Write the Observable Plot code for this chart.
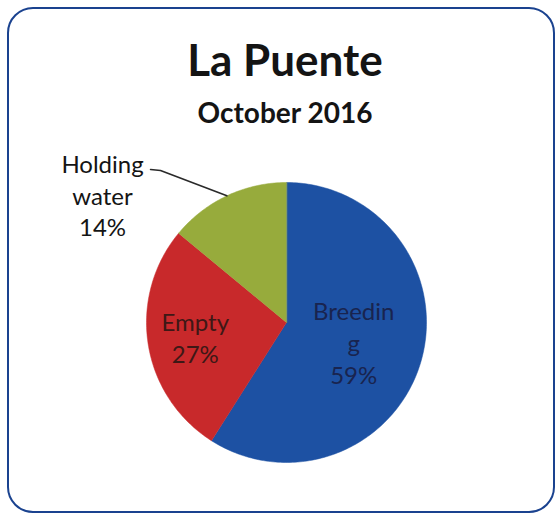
<!DOCTYPE html>
<html><head><meta charset="utf-8">
<script src="https://cdn.jsdelivr.net/npm/d3@7"></script>
<script src="https://cdn.jsdelivr.net/npm/@observablehq/plot@0.6"></script>
<style>
body{margin:0;background:#fff;}
#card{position:relative;width:558px;height:517px;overflow:hidden;font-family:Lato,"Open Sans",sans-serif;color:#141414;}
#frame{position:absolute;left:7px;top:7px;width:544px;height:502px;border:2.5px solid #1a428f;border-radius:26px;}
#title{position:absolute;left:0;width:570px;top:37px;text-align:center;font-weight:bold;font-size:44px;line-height:44px;margin:0;}
#subtitle{position:absolute;left:0;width:570px;top:98px;text-align:center;font-weight:bold;font-size:28px;line-height:28px;margin:0;}
#chart{position:absolute;left:0;top:130px;}
</style></head>
<body>
<div id="card">
  <div id="frame"></div>
  <div id="title">La Puente</div>
  <div id="subtitle">October 2016</div>
  <div id="chart"></div>
</div>
<script>
// ---- data ----
const categories = ["Breeding", "Empty", "Holding water"];
const values = [59, 27, 14];
const labels = ["Breedin\ng\n59%", "Empty\n27%", "Holding\nwater\n14%"];
const colors = ["#1d51a3", "#c8292b", "#97ab3c"];

// ---- layout (not data) ----
const W = 558, H = 387, cx = 286, cy = 192, R = 140;
const labelLayout = [
  {radial: 0.5, color: "#19244f"},
  {radial: 0.66, color: "#3e1816"},
  {pos: [-1.314, 0.914], color: "#141414", leader: [[-0.971, 1.093], [-0.9, 1.086]]}
];

const arcs = d3.pie().sort(null).value(d => d)(values);
const slicePts = [];
arcs.forEach((a, i) => {
  slicePts.push({category: categories[i], x: 0, y: 0});
  const n = Math.max(2, Math.ceil((a.endAngle - a.startAngle) / (Math.PI / 180)));
  for (let k = 0; k <= n; k++) {
    const t = a.startAngle + (a.endAngle - a.startAngle) * k / n;
    slicePts.push({category: categories[i], x: Math.sin(t), y: Math.cos(t)});
  }
});

const textMarks = [];
const leaderPts = [];
arcs.forEach((a, i) => {
  const mid = (a.startAngle + a.endAngle) / 2;
  const L = labelLayout[i];
  let p;
  if (L.pos) {
    p = {x: L.pos[0], y: L.pos[1], text: labels[i]};
    L.leader.forEach(q => leaderPts.push({x: q[0], y: q[1]}));
    leaderPts.push({x: Math.sin(mid), y: Math.cos(mid)});
  } else {
    p = {x: L.radial * Math.sin(mid), y: L.radial * Math.cos(mid), text: labels[i]};
  }
  textMarks.push(Plot.text([p], {x: "x", y: "y", text: "text", fill: L.color,
    fontSize: 24, lineHeight: 1.32, fontFamily: "Lato, 'Open Sans', sans-serif"}));
});

const chart = Plot.plot({
  width: W, height: H, margin: 0,
  style: {background: "transparent", overflow: "visible"},
  x: {domain: [-1, 1], range: [cx - R, cx + R], axis: null},
  y: {domain: [-1, 1], range: [cy + R, cy - R], axis: null},
  color: {domain: categories, range: colors},
  marks: [
    Plot.line(slicePts, {x: "x", y: "y", z: "category", fill: "category", stroke: "category", strokeWidth: 0.5, curve: "linear-closed"}),
    Plot.line(leaderPts, {x: "x", y: "y", stroke: "#2a2a2a", strokeWidth: 1.6}),
    ...textMarks
  ]
});
document.getElementById("chart").appendChild(chart);
</script>
</body></html>
